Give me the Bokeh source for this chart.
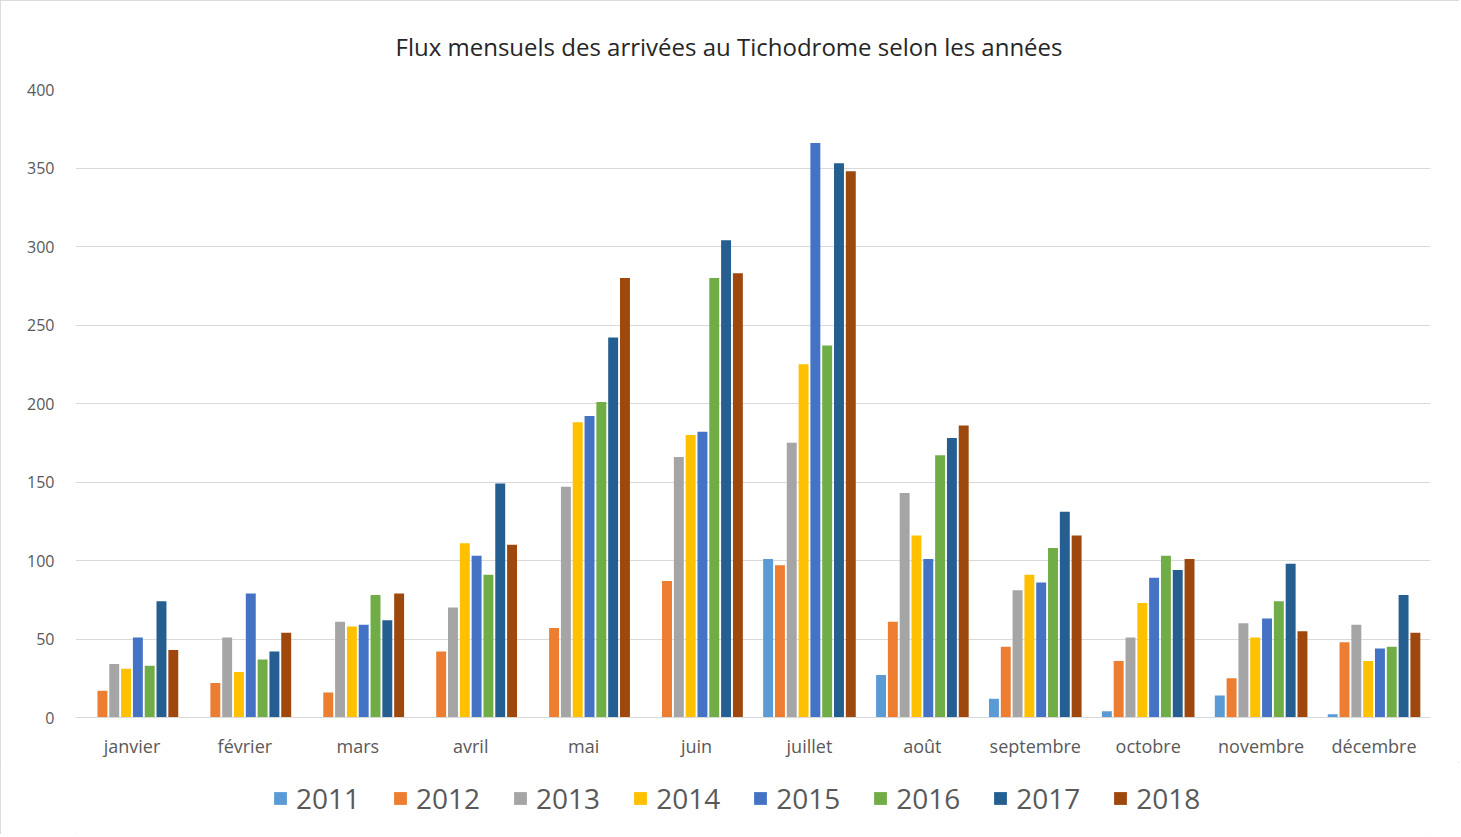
from bokeh.plotting import figure
from bokeh.layouts import column
from bokeh.models import ColumnDataSource, FactorRange, Legend, LegendItem, FixedTicker
from bokeh.transform import dodge
from bokeh.embed import file_html
from bokeh.resources import INLINE

months = ["janvier", "février", "mars", "avril", "mai", "juin",
          "juillet", "août", "septembre", "octobre", "novembre", "décembre"]
years = ["2011", "2012", "2013", "2014", "2015", "2016", "2017", "2018"]

v2011 = [0, 0, 0, 0, 0, 0, 101, 27, 12, 4, 14, 2]
v2012 = [17, 22, 16, 42, 57, 87, 97, 61, 45, 36, 25, 48]
v2013 = [34, 51, 61, 70, 147, 166, 175, 143, 81, 51, 60, 59]
v2014 = [31, 29, 58, 111, 188, 180, 225, 116, 91, 73, 51, 36]
v2015 = [51, 79, 59, 103, 192, 182, 366, 101, 86, 89, 63, 44]
v2016 = [33, 37, 78, 91, 201, 280, 237, 167, 108, 103, 74, 45]
v2017 = [74, 42, 62, 149, 242, 304, 353, 178, 131, 94, 98, 78]
v2018 = [43, 54, 79, 110, 280, 283, 348, 186, 116, 101, 55, 54]

colors = ["#5B9BD5", "#ED7D31", "#A5A5A5", "#FFC000",
          "#4472C4", "#70AD47", "#255E91", "#9E480E"]

data = {"month": months}
for y, vals in zip(years, [v2011, v2012, v2013, v2014, v2015, v2016, v2017, v2018]):
    data["y" + y] = vals
source = ColumnDataSource(data)

p = figure(x_range=FactorRange(*months), y_range=(0, 400),
           frame_width=1355, frame_height=628, output_backend="svg", toolbar_location=None,
           min_border_left=75, min_border_right=29, min_border_top=86, min_border_bottom=45,
           title="Flux mensuels des arrivées au Tichodrome selon les années")

slot = 0.1046
for i, (y, c) in enumerate(zip(years, colors)):
    p.vbar(x=dodge("month", (i - 3.5) * slot, range=p.x_range), top="y" + y,
           width=0.088, source=source, fill_color=c, line_color=None)

p.title.align = "left"
p.title.text_font = "Open Sans"
p.title.text_font_size = "24px"
p.title.text_font_style = "normal"
p.title.text_color = "#262626"
p.title.standoff = 54
p.title.offset = 320

p.outline_line_color = None
p.xgrid.grid_line_color = None
p.ygrid.grid_line_color = "#D9D9D9"
p.yaxis.ticker = FixedTicker(ticks=[0, 50, 100, 150, 200, 250, 300, 350, 400])
p.yaxis.axis_line_color = None
p.yaxis.major_tick_line_color = None
p.yaxis.minor_tick_line_color = None
p.yaxis.major_label_text_font = "Open Sans"
p.yaxis.major_label_text_font_size = "16px"
p.yaxis.major_label_text_color = "#595959"
p.yaxis.major_label_standoff = 15

p.xaxis.axis_line_color = "#D9D9D9"
p.xaxis.major_tick_line_color = None
p.xaxis.minor_tick_line_color = None
p.xaxis.major_label_text_font = "Open Sans"
p.xaxis.major_label_text_font_size = "18px"
p.xaxis.major_label_text_color = "#595959"
p.xaxis.major_label_standoff = 10

# legend in its own strip below the chart (swatch renderers have zero height)
lg = figure(width=1459, height=72, output_backend="svg", toolbar_location=None,
            x_range=(0, 1), y_range=(0, 1), min_border=0)
lg.axis.visible = False
lg.grid.visible = False
lg.outline_line_color = None
items = []
for y, c in zip(years, colors):
    r = lg.vbar(x=[0.5], top=[0], bottom=[0], width=0.01, fill_color=c, line_color=None)
    items.append(LegendItem(label=y, renderers=[r]))

legend = Legend(items=items, orientation="horizontal", location=(197, 17),
                label_text_font="Open Sans", label_text_font_size="28px",
                label_text_color="#595959", glyph_width=16, glyph_height=16,
                label_standoff=8, spacing=32, border_line_color=None,
                background_fill_alpha=0, padding=0, margin=0)
lg.add_layout(legend, "center")

layout = column(p, lg, spacing=0)
layout.styles = {"outline": "1px solid #D0D0D0", "outline-offset": "-1px"}

open("out.html", "w").write(file_html(layout, INLINE))
